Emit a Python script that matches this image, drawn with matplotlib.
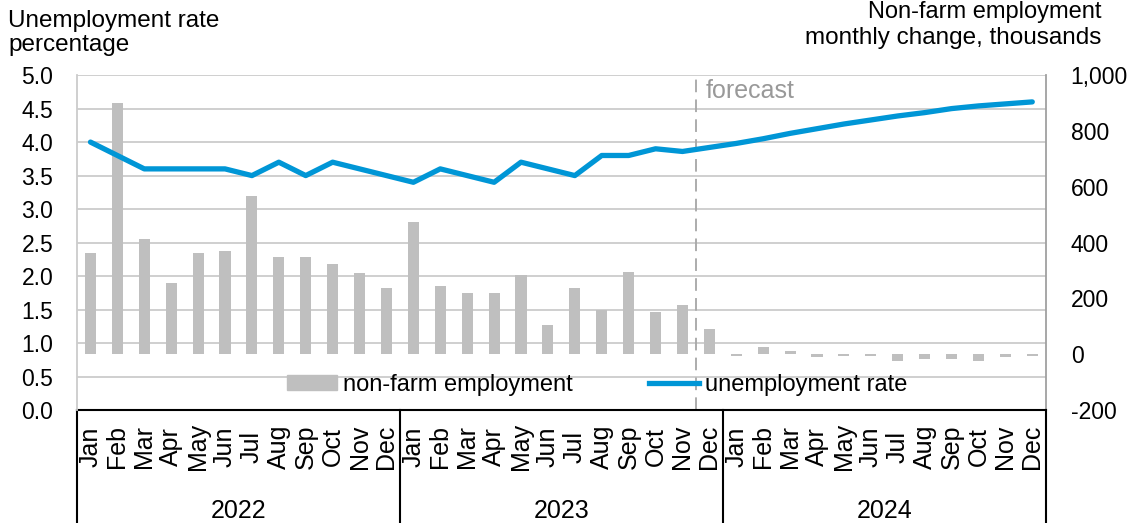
import numpy as np
import matplotlib
matplotlib.use("Agg")
import matplotlib.pyplot as plt
from matplotlib.patches import Patch
from matplotlib.lines import Line2D

# monthly data, Jan 2022 - Dec 2024 (2024 = forecast)
months = ["Jan", "Feb", "Mar", "Apr", "May", "Jun",
          "Jul", "Aug", "Sep", "Oct", "Nov", "Dec"]
years = ["2022", "2023", "2024"]

unemployment = [4.0, 3.8, 3.6, 3.6, 3.6, 3.6, 3.5, 3.7, 3.5, 3.7, 3.6, 3.5,
                3.4, 3.6, 3.5, 3.4, 3.7, 3.6, 3.5, 3.8, 3.8, 3.9, 3.86, 3.92,
                3.98, 4.05, 4.13, 4.2, 4.27, 4.33, 4.39, 4.44, 4.5, 4.54, 4.57, 4.6]
nonfarm = [363, 900, 412, 256, 363, 368, 567, 349, 349, 323, 291, 237,
           472, 245, 219, 219, 283, 106, 237, 160, 295, 150, 178, 92,
           -8, 27, 12, -9, -5, -8, -26, -18, -18, -26, -10, -8]

blue = "#0096d6"
bar_gray = "#bfbfbf"
grid_gray = "#cccccc"

plt.rcParams['font.family'] = ['Liberation Sans', 'DejaVu Sans']
plt.rcParams['font.size'] = 16.5

fig = plt.figure(figsize=(11.41, 5.23), dpi=100)
ax = fig.add_axes([0.0675, 0.216, 0.849, 0.6404])   # unemployment (left scale)
ax2 = ax.twinx()                                      # non-farm (right scale)
ax.set_zorder(ax2.get_zorder() + 1)
ax.patch.set_visible(False)

n = len(nonfarm)
x = np.arange(n)

# bars on the right axis
ax2.bar(x, nonfarm, width=0.41, color=bar_gray, zorder=2)
ax2.set_ylim(-200, 1000)
ax2.set_yticks(np.arange(-200, 1001, 200))
ax2.set_yticklabels([f"{v:,}" for v in range(-200, 1001, 200)])

# gridlines follow the left scale, drawn behind the bars
left_ticks = np.arange(0, 5.01, 0.5)
for t in left_ticks:
    ax2.axhline(-200 + t / 5 * 1200, color=grid_gray, lw=1.3, zorder=0)

# unemployment line
ax.plot(x, unemployment, color=blue, lw=3.8, solid_capstyle='round', zorder=3)
ax.set_ylim(0, 5)
ax.set_yticks(left_ticks)
ax.set_yticklabels([f"{v:.1f}" for v in left_ticks])
ax.set_xlim(-0.5, n - 0.5)
ax.set_xticks([])

# forecast marker
ax.axvline(22.5, color="#a6a6a6", lw=1.3, ls=(0, (7, 4)), zorder=1)
ax.text(22.85, 4.66, "forecast", color="#999999", fontsize=18, va='baseline')

for a in (ax, ax2):
    a.tick_params(length=0, labelsize=16.5)
    for s in a.spines.values():
        s.set_visible(False)
ax.tick_params(axis='y', pad=17)
ax2.tick_params(axis='y', pad=18)
ax.spines['left'].set_visible(True)
ax.spines['left'].set_color(grid_gray)
ax.spines['left'].set_linewidth(1.3)
ax2.spines['right'].set_visible(True)
ax2.spines['right'].set_color("#a0a0a0")
ax2.spines['right'].set_linewidth(1.3)

# legend
handles = [Patch(color=bar_gray), Line2D([], [], color=blue, lw=3.8)]
ax.legend(handles, ["non-farm employment", "unemployment rate"],
          loc='center', bbox_to_anchor=(0.537, 0.075), ncol=2, frameon=False,
          handlelength=2.15, handleheight=0.6, handletextpad=0.25,
          columnspacing=3.2, fontsize=17, borderpad=0.2)

# category table under the axes
tr = ax.get_xaxis_transform()
ax.plot([-0.5, n - 0.5], [0, 0], color="black", lw=1.5, transform=tr, clip_on=False)
for b in (-0.5, 11.5, 23.5, 35.5):
    ax.plot([b, b], [0, -0.4], color="black", lw=1.5, transform=tr, clip_on=False)
for i in range(n):
    ax.text(i, -0.11, months[i % 12], rotation=90, ha='center', va='center',
            fontsize=18, transform=tr)
for k, yr in enumerate(years):
    ax.text(k * 12 + 5.5, -0.3, yr, ha='center', va='center', fontsize=18,
            transform=tr)

# axis titles
fig.text(0.007, 1 - 27 / 523, "Unemployment rate", fontsize=17.5, va='baseline')
fig.text(0.007, 1 - 51 / 523, "percentage", fontsize=17.5, va='baseline')
fig.text(0.965, 1 - 18 / 523, "Non-farm employment", fontsize=17,
         va='baseline', ha='right')
fig.text(0.965, 1 - 44 / 523, "monthly change, thousands", fontsize=17.5,
         va='baseline', ha='right')

fig.savefig("out.png", dpi=100)
